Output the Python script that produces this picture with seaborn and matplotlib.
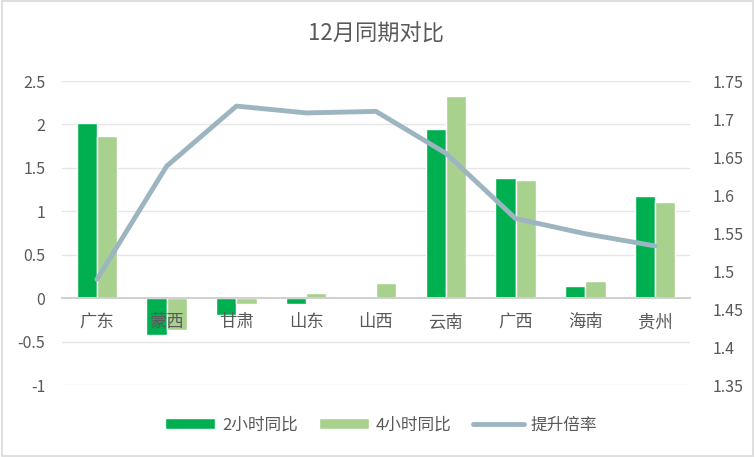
import numpy as np
import pandas as pd
import matplotlib
matplotlib.use("Agg")
import matplotlib.pyplot as plt
import seaborn as sns

# data
provinces = ["广东", "蒙西", "甘肃", "山东", "山西", "云南", "广西", "海南", "贵州"]
yoy_2h = [2.02, -0.42, -0.19, -0.07, 0.0, 1.95, 1.38, 0.14, 1.18]
yoy_4h = [1.87, -0.37, -0.07, 0.06, 0.18, 2.33, 1.36, 0.20, 1.11]
rate = [1.489, 1.638, 1.717, 1.708, 1.710, 1.655, 1.569, 1.549, 1.533]
series_names = ["2小时同比", "4小时同比", "提升倍率"]

df = pd.DataFrame({
    "省份": provinces * 2,
    "值": yoy_2h + yoy_4h,
    "系列": [series_names[0]] * len(provinces) + [series_names[1]] * len(provinces),
})

sns.set_style("white")
plt.rcParams["font.family"] = ["Noto Sans CJK SC", "DejaVu Sans"]
grey = "#595959"

fig = plt.figure(figsize=(7.55, 4.57), dpi=100)
ax = fig.add_axes([62 / 755, 1 - 385 / 457, (690 - 62) / 755, (385 - 81) / 457])

sns.barplot(data=df, x="省份", y="值", hue="系列", order=provinces,
            palette=["#00B050", "#A9D18E"], width=0.58, saturation=1,
            ax=ax, legend=True, zorder=2)
ax.set_ylim(-1, 2.5)
yt = np.arange(-1, 2.51, 0.5)
ax.set_yticks(yt)
ax.set_yticklabels(["-1", "-0.5", "0", "0.5", "1", "1.5", "2", "2.5"])
# gridlines under the bars, tick labels above them
ax.grid(False)
for y in yt:
    if y != 0:
        ax.axhline(y, color="#e6e6e6", lw=1, zorder=0)
ax.set_axisbelow(False)
ax.set_xlabel("")
ax.set_ylabel("")
for s in ["left", "right", "top"]:
    ax.spines[s].set_visible(False)
ax.spines["bottom"].set_position(("data", 0))
ax.spines["bottom"].set_color("#d0d0d0")
ax.spines["bottom"].set_linewidth(1.4)
ax.tick_params(axis="y", length=0, labelsize=11.5, colors=grey, pad=12)
ax.tick_params(axis="x", length=0, labelsize=12.5, colors=grey, pad=11)
ax.set_xlim(-0.5, len(provinces) - 0.5)
h1, l1 = ax.get_legend_handles_labels()
ax.get_legend().remove()

ax2 = ax.twinx()
sns.lineplot(x=provinces, y=rate, sort=False, color="#9DB5C1", lw=3.5,
             ax=ax2, label=series_names[2], solid_capstyle="round")
ax2.set_ylim(1.35, 1.75)
ax2.set_yticks(np.arange(1.35, 1.751, 0.05))
ax2.set_yticklabels(["1.35", "1.4", "1.45", "1.5", "1.55", "1.6", "1.65", "1.7", "1.75"])
for s in ax2.spines.values():
    s.set_visible(False)
ax2.tick_params(axis="y", length=0, labelsize=11.5, colors=grey, pad=16)
h2, l2 = ax2.get_legend_handles_labels()
ax2.get_legend().remove()

fig.text(376 / 755, 1 - 34 / 457, "12月同期对比", ha="center", va="center",
         fontsize=16, color=grey)
leg = fig.legend(h1 + h2, l1 + l2, loc="center", bbox_to_anchor=(381 / 755, 1 - 425 / 457),
                 ncol=3, frameon=False, fontsize=12, handlelength=3.0,
                 handleheight=0.6, columnspacing=1.3, handletextpad=0.4)
for t in leg.get_texts():
    t.set_color(grey)

fig.patches.append(plt.Rectangle((0.002, 0.002), 0.996, 0.996, transform=fig.transFigure,
                                 fill=False, edgecolor="#d9d9d9", lw=1.2))
fig.savefig("out.png", dpi=100)
